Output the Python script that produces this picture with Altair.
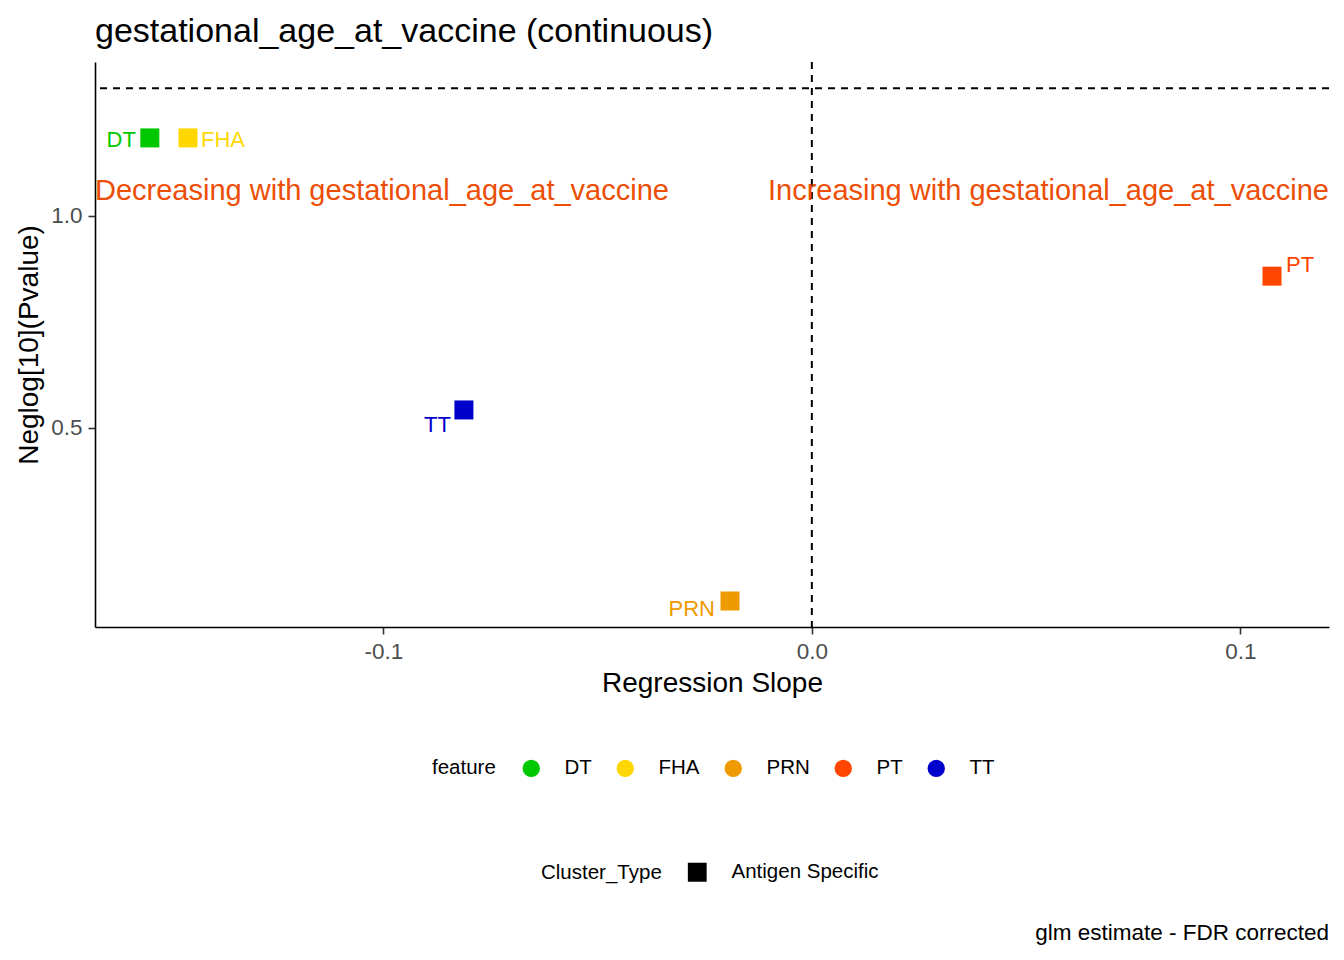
import altair as alt
import pandas as pd

# ---- data ----
features = ["DT", "FHA", "PRN", "PT", "TT"]
slopes = [-0.1545, -0.1456, -0.0191, 0.1074, -0.0812]
neglogp = [1.184, 1.184, 0.092, 0.858, 0.5425]
cluster_types = ["Antigen Specific"] * 5
feature_colors = ["#00C800", "#FFD700", "#EE9A00", "#FF4500", "#0000CD"]

x_domain = [-0.1673, 0.1207]
y_domain = [0.0307, 1.363]
x_ticks = [-0.1, 0.0, 0.1]
y_ticks = [0.5, 1.0]
p_threshold = [1.301]
slope_zero = [0.0]

annot_text = ["Decreasing with gestational_age_at_vaccine",
              "Increasing with gestational_age_at_vaccine"]
annot_x = [-0.1673, 0.1207]
annot_y = [1.038, 1.038]
caption = ["glm estimate - FDR corrected"]

FONT = "Liberation Sans"
W, H = 1234, 565
LABEL_EXPR = ("datum.value < 0 ? '-' + format(-datum.value, '.1f') "
              ": format(datum.value, '.1f')")

df = pd.DataFrame({"feature": features, "slope": slopes, "neglogp": neglogp,
                   "Cluster_Type": cluster_types})

xs = alt.Scale(domain=x_domain, nice=False, zero=False)
ys = alt.Scale(domain=y_domain, nice=False, zero=False)
cs = alt.Scale(domain=features, range=feature_colors)

points = alt.Chart(df).mark_point(filled=True, opacity=1, size=361).encode(
    x=alt.X("slope:Q", scale=xs, title="Regression Slope",
            axis=alt.Axis(values=x_ticks, labelExpr=LABEL_EXPR)),
    y=alt.Y("neglogp:Q", scale=ys, title="Neglog[10](Pvalue)",
            axis=alt.Axis(values=y_ticks, labelExpr=LABEL_EXPR)),
    color=alt.Color("feature:N", scale=cs, legend=alt.Legend(
        orient="none", legendX=337, legendY=696, direction="horizontal",
        titleOrient="left", symbolType="circle", symbolSize=300,
        labelOffset=23, columnPadding=23, titlePadding=25, title="feature")),
    shape=alt.Shape("Cluster_Type:N", scale=alt.Scale(range=["square"]),
                    legend=alt.Legend(
        orient="none", legendX=446, legendY=800, direction="horizontal",
        titleOrient="left", symbolSize=300, symbolFillColor="black",
        symbolStrokeColor="black", labelOffset=24, titlePadding=25,
        title="Cluster_Type")),
)

hline = alt.Chart(pd.DataFrame({"y": p_threshold})).mark_rule(
    color="black", strokeDash=[7, 6], strokeWidth=2
).encode(y=alt.Y("y:Q", scale=ys, title="Neglog[10](Pvalue)"))

vline = alt.Chart(pd.DataFrame({"x": slope_zero})).mark_rule(
    color="black", strokeDash=[7, 6], strokeWidth=2
).encode(x=alt.X("x:Q", scale=xs, title="Regression Slope"))

label_style = {
    "DT": ("right", -14, 2),
    "FHA": ("left", 13, 2),
    "PRN": ("right", -15, 8),
    "PT": ("left", 14, -11),
    "TT": ("right", -13, 15),
}
label_layers = []
for f, (al, dx, dy) in label_style.items():
    label_layers.append(
        alt.Chart(df).transform_filter(alt.datum.feature == f).mark_text(
            align=al, baseline="middle", dx=dx, dy=dy, fontSize=22, font=FONT
        ).encode(
            x=alt.X("slope:Q", scale=xs, title="Regression Slope"),
            y=alt.Y("neglogp:Q", scale=ys, title="Neglog[10](Pvalue)"),
            text="feature:N",
            color=alt.Color("feature:N", scale=cs, legend=None),
        )
    )

adf = pd.DataFrame({"text": annot_text, "x": annot_x, "y": annot_y})
annot_layers = []
for i, al in enumerate(["left", "right"]):
    annot_layers.append(
        alt.Chart(adf.iloc[[i]]).mark_text(
            align=al, baseline="alphabetic", fontSize=29, font=FONT, color="#EC4E06"
        ).encode(
            x=alt.X("x:Q", scale=xs, title="Regression Slope"),
            y=alt.Y("y:Q", scale=ys, title="Neglog[10](Pvalue)"),
            text="text:N",
        )
    )

cap = alt.Chart(pd.DataFrame({"caption": caption})).mark_text(
    align="right", baseline="alphabetic", fontSize=22.5, font=FONT, color="black"
).encode(x=alt.value(W), y=alt.value(878), text="caption:N")

chart = alt.layer(points, hline, vline, *label_layers, *annot_layers, cap).properties(
    width=W, height=H,
    title=alt.TitleParams("gestational_age_at_vaccine (continuous)", anchor="start",
                          frame="group", fontSize=34, font=FONT,
                          fontWeight="normal", color="black", offset=12),
    autosize=alt.AutoSizeParams(type="none"),
    padding={"left": 87, "top": 54, "right": 7, "bottom": 325},
).configure_view(stroke=None).configure_axis(
    domainColor="black", domainWidth=1.6, tickColor="#333333", tickWidth=1.6,
    tickSize=7, labelColor="#4D4D4D", labelFontSize=22.5, labelFont=FONT,
    labelPadding=6, titleFont=FONT, titleFontSize=28, titleColor="black",
    titleFontWeight="normal", grid=False, titlePadding=7,
).configure_legend(
    labelFont=FONT, labelFontSize=20.5, labelColor="black",
    titleFont=FONT, titleFontSize=20.5, titleColor="black", titleFontWeight="normal",
)

chart.save("out.html", embed_options={"renderer": "svg", "actions": False})
